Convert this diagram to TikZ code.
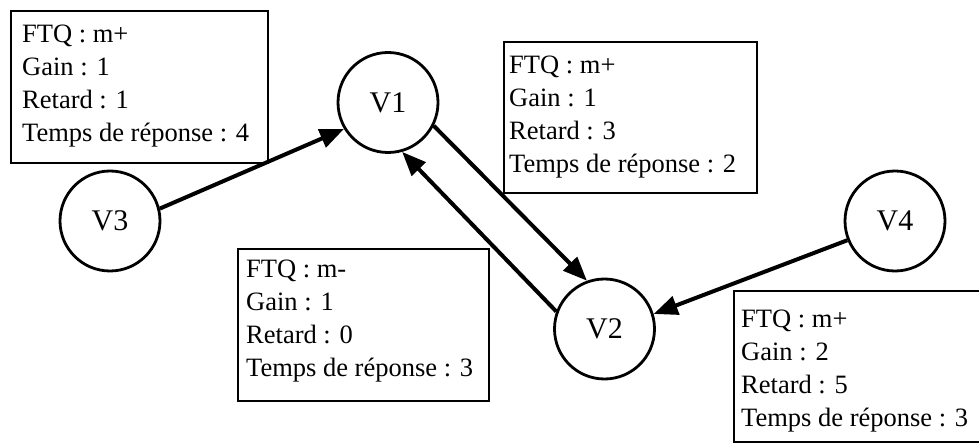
\documentclass[tikz,border=0pt]{standalone}
\usepackage{fontspec}
\setmainfont{Liberation Serif}
\usetikzlibrary{arrows.meta}
\begin{document}
\begin{tikzpicture}[x=1pt,y=-1pt,
  vnode/.style={draw, line width=2.8pt, circle, minimum size=100pt, inner sep=0pt, font=\fontsize{30}{30}\selectfont},
  infobox/.style={draw, line width=2.3pt, anchor=north west, inner sep=0pt},
  boxtext/.style={anchor=north west, inner sep=0pt, align=left, font=\fontsize{26.5}{33}\selectfont},
  conn/.style={line width=4pt, -{Triangle[length=24pt,width=19pt]}},
]
\useasboundingbox (0,0) rectangle (979,443);

% info boxes
\node[infobox, minimum width=257pt, minimum height=152pt] (b1) at (10,10) {};
\node[infobox, minimum width=253pt, minimum height=151pt] (b2) at (503,41) {};
\node[infobox, minimum width=251pt, minimum height=152pt] (b3) at (237,248) {};
\node[infobox, minimum width=260pt, minimum height=151pt] (b4) at (733,290) {};

\node[boxtext] (t1) at (22,24.5) {FTQ : m+\\Gain : 1\\Retard : 1\\Temps de réponse : 4};
\node[boxtext] (t2) at (509,55.5) {FTQ : m+\\Gain : 1\\Retard : 3\\Temps de réponse : 2};
\node[boxtext] (t3) at (246,259.5) {FTQ : m-\\Gain : 1\\Retard : 0\\Temps de réponse : 3};
\node[boxtext] (t4) at (741,309.5) {FTQ : m+\\Gain : 2\\Retard : 5\\Temps de réponse : 3};

% variables
\node[vnode, fill=white] (V1) at (388,102.5) {V1};
\node[vnode, fill=white] (V2) at (604.5,329) {V2};
\node[vnode, fill=white] (V3) at (110,221) {V3};
\node[vnode, fill=white] (V4) at (895,221) {V4};

% influences
\draw[conn] (V3.14) -- (V1.211);
\draw[conn] (V1.-27) -- (V2.110);
\draw[conn] (V2.160) -- (V1.-74);
\draw[conn] (V4.202) -- (V2.17);
\end{tikzpicture}
\end{document}
